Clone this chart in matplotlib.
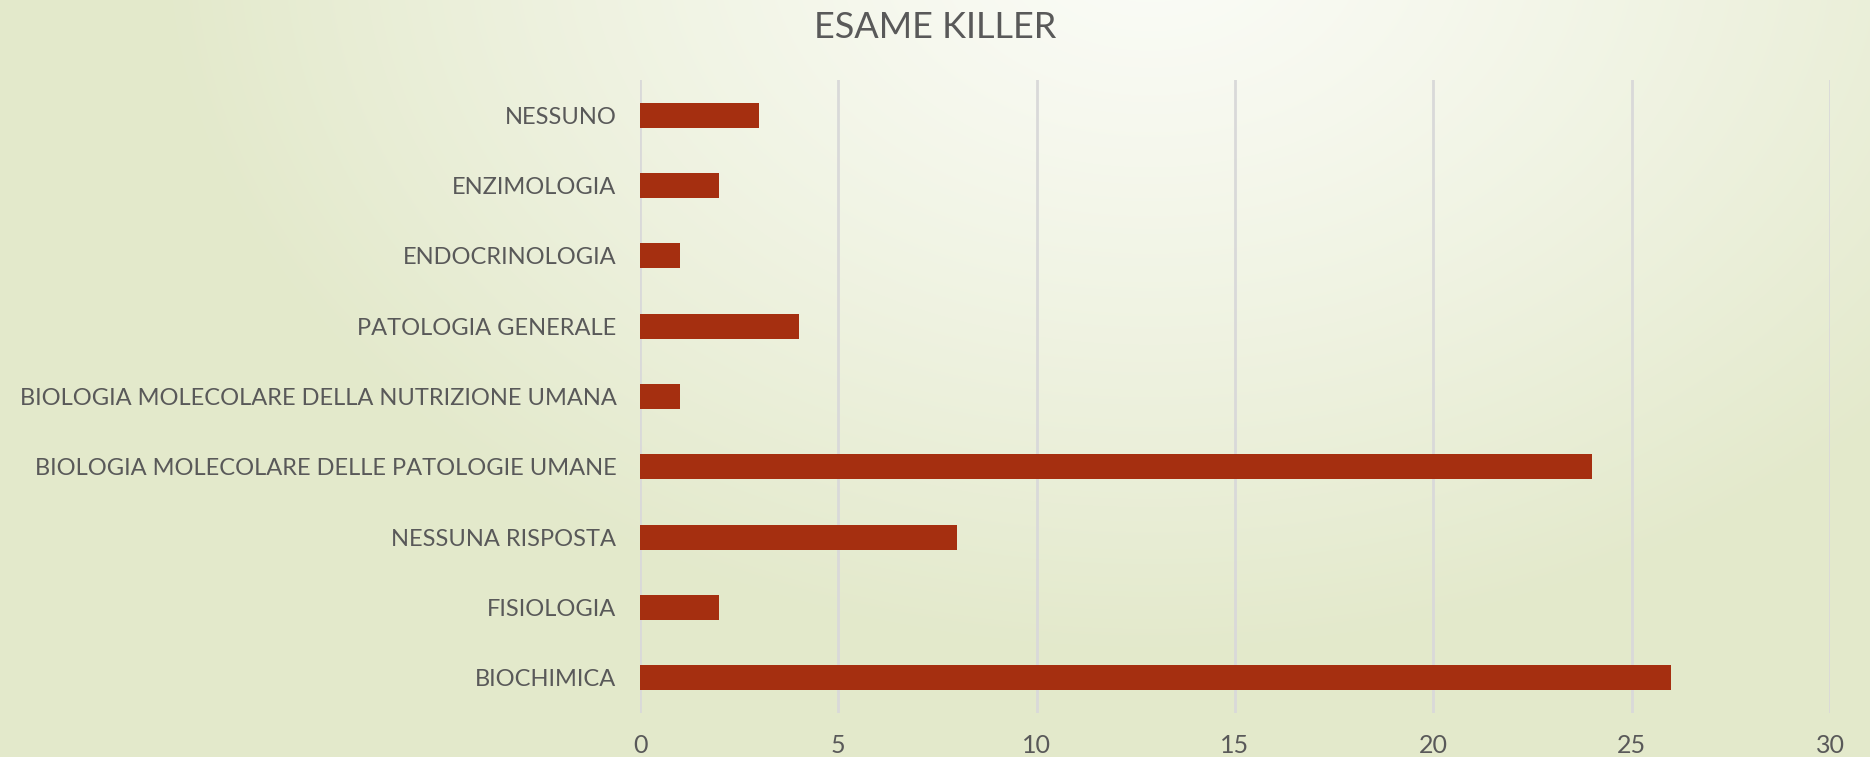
import numpy as np
import matplotlib
matplotlib.use("Agg")
import matplotlib.pyplot as plt

# -------------------
# Data (bottom to top)
# -------------------
categories = [
    "BIOCHIMICA",
    "FISIOLOGIA",
    "NESSUNA RISPOSTA",
    "BIOLOGIA MOLECOLARE DELLE PATOLOGIE UMANE",
    "BIOLOGIA MOLECOLARE DELLA NUTRIZIONE UMANA",
    "PATOLOGIA GENERALE",
    "ENDOCRINOLOGIA",
    "ENZIMOLOGIA",
    "NESSUNO",
]
counts = [26, 2, 8, 24, 1, 4, 1, 2, 3]
x_ticks = [0, 5, 10, 15, 20, 25, 30]

plt.rcParams["font.family"] = ["Lato", "DejaVu Sans"]
text_col = "#595959"
bar_col = "#a52f10"

W, H = 1870, 757
fig = plt.figure(figsize=(W / 100, H / 100), dpi=100)

# -------------------
# Background gradient
# -------------------
bg = fig.add_axes([0, 0, 1, 1])
yy, xx = np.mgrid[0:H, 0:W]
r = np.sqrt(((xx - 1150) / 1000.0) ** 2 + ((yy + 60) / 720.0) ** 2)
t = np.clip(r, 0, 1) ** 1.2
light = np.array([251, 252, 247]) / 255.0
dark = np.array([227, 233, 203]) / 255.0
img = light[None, None, :] * (1 - t[..., None]) + dark[None, None, :] * t[..., None]
bg.imshow(img, aspect="auto", extent=[0, 1, 0, 1], origin="upper")
bg.axis("off")

# -------------------
# Bars
# -------------------
ax = fig.add_axes([640 / W, 1 - 713 / H, 1190 / W, 633 / H])
ax.patch.set_alpha(0)
y = np.arange(len(categories))
ax.barh(y, counts, height=0.36, color=bar_col, zorder=3)
ax.set_ylim(-0.5, len(categories) - 0.5)
ax.set_xlim(0, 30)
ax.set_xticks(x_ticks)
ax.set_yticks(y)
ax.set_yticklabels(categories)
ax.grid(axis="x", color="#d9d9d9", linewidth=2, zorder=0)
for s in ax.spines.values():
    s.set_visible(False)
ax.tick_params(axis="x", length=0, pad=15, labelsize=18, labelcolor=text_col)
ax.tick_params(axis="y", length=0, pad=17, labelsize=17, labelcolor=text_col)

fig.text(0.5, 1 - 27 / H, "ESAME KILLER", ha="center", va="center",
         fontsize=26, color=text_col)

fig.savefig("out.png", dpi=100)
